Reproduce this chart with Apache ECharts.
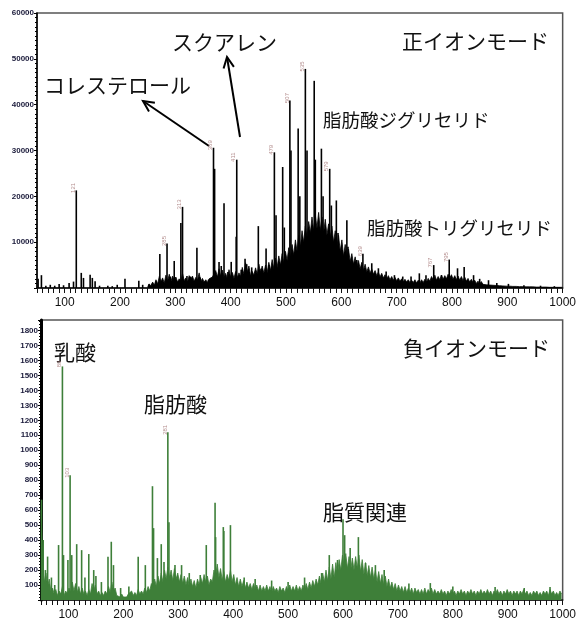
<!DOCTYPE html>
<html>
<head>
<meta charset="utf-8">
<script src="https://cdn.jsdelivr.net/npm/echarts@6/dist/echarts.min.js"></script>
<style>
  html, body { margin: 0; padding: 0; background: #fff; }
  #chart { width: 579px; height: 621px; }
</style>
</head>
<body>
<div id="chart"></div>
<script>
// 正イオンモード: 主要ピーク [m/z, 強度]
const posPeaks = [
  [52,2000],[58,2800],[66,500],[74,700],[82,500],[90,900],[98,600],[108,1100],[116,1400],[121,21300],
  [130,3300],[134,2200],[146,2900],[150,2200],[155,1500],[163,500],[178,500],[186,400],[195,700],[209,2000],
  [234,1600],[241,700],[252,800],[258,1000],[265,1500],[272,7400],[285,9700],[291,2500],[298,5900],[310,14200],
  [313,17700],[321,2600],[327,2500],[339,8800],[345,2300],[352,1300],[360,1800],[369,30600],[371,26000],[379,5700],
  [383,4800],[388,18500],[395,3500],[401,5700],[410,11200],[411,28000],[419,4000],[426,6400],[429,5200],[434,3400],
  [438,4500],[445,3600],[450,13500],[455,4200],[464,8600],[469,5000],[479,29600],[482,15900],[494,26400],[497,13200],
  [507,40900],[509,30000],[522,34800],[525,20000],[535,47800],[538,30000],[551,45200],[553,28000],[564,30400],[567,20000],
  [579,26000],[582,18000],[591,19100],[594,12000],[610,14800],[612,9000],[628,6100],[639,7500],[655,5400],[667,4300],
  [681,3600],[696,2800],[711,2500],[726,2500],[741,3200],[753,2800],[767,5000],[781,2800],[795,6200],[810,4300],
  [822,4600],[839,2800],[850,2000],[866,1700],[881,1100],[902,900],[930,600],[960,500],[985,400]
];
// 正イオンモード: ピーク番号を付けるもの
const posLabeled = [121,285,313,369,411,479,507,535,579,639,767,795];
// 正イオンモード: 背景 (m/z 250 から 3 刻み)
const posBgStart = 250, posBgStep = 3;
const posBg = [
  300,900,400,1300,600,1800,900,2500,1400,2200,
  1100,2800,1500,3000,1400,2600,1800,2400,1300,2000,
  1500,3200,1600,2200,1300,2700,2000,2600,1500,2300,
  1700,3300,1500,2100,1300,1800,1200,2000,1600,2400,
  2000,3800,2400,4200,2600,3900,2200,3200,2000,4000,
  2400,3400,2100,3600,2300,3300,2500,4500,3000,5500,
  3500,4800,2600,3600,2800,4400,3000,5200,3400,4800,
  3200,5000,3400,5600,3800,6200,4200,6500,4500,7000,
  5000,7500,5400,8000,6000,8800,6500,9500,7200,10500,
  8000,11500,9000,12500,10000,13500,11000,14500,12000,15500,
  12500,16000,13000,16500,12500,15500,12000,15000,11500,14000,
  11000,13500,10000,12500,9000,11500,8000,10500,7000,9500,
  6500,8500,5800,7500,5200,6800,4600,6000,4200,5600,
  3800,5200,3500,4600,3200,4200,3000,3800,2700,3500,
  2400,3200,2200,2900,2000,2700,1800,2500,1700,2300,
  1600,2200,1500,2000,1400,1900,1300,1800,1200,1700,
  1200,1800,1100,1700,1100,1800,1200,1900,1300,2100,
  1500,2500,1800,2800,1700,2500,1800,2800,1900,2700,
  2000,3000,2200,2900,1900,2700,1800,2600,1700,2500,
  1600,2400,1500,2100,1300,1900,1200,1700,1000,1500,
  900,1400,800,1200,700,1100,650,1000,600,900,
  550,850,500,800,450,700,400,650,400,600,
  350,550,350,500,300,500,300,450,250,450,
  250,400,250,400,200,350,200,350,200,300,
  200,300,150,300,150,250,150,250,150,250,
  150
];

// 負イオンモード: 主要ピーク [m/z, 強度]
const negPeaks = [
  [51,670],[54,400],[58,200],[62,290],[69,150],[75,100],[82,367],[89,1560],[91,300],[99,267],
  [103,833],[106,300],[115,373],[124,333],[130,150],[137,307],[146,200],[150,160],[160,120],[172,289],
  [178,389],[182,233],[195,80],[210,90],[227,289],[240,233],[253,760],[255,480],[262,280],[269,373],
  [274,253],[281,1120],[283,520],[294,233],[306,233],[320,180],[340,167],[351,367],[367,649],[368,420],
  [382,487],[383,460],[395,500],[420,150],[440,140],[470,130],[500,120],[530,150],[561,180],[575,300],
  [590,267],[600,540],[603,433],[613,347],[628,420],[641,247],[659,233],[675,200],[720,110],[759,113],
  [800,90],[877,87],[930,80],[977,87]
];
const negLabeled = [89,103,281];
// 負イオンモード: 背景 (m/z 50 から 3 刻み)
const negBgStart = 50, negBgStep = 3;
const negBg = [
  600,250,120,180,90,140,60,80,40,70,
  30,60,40,90,30,60,40,80,50,120,
  60,110,50,90,40,80,40,60,30,70,
  40,110,60,100,40,60,30,50,30,60,
  40,90,50,120,60,80,30,40,20,40,
  20,30,20,40,30,60,30,50,30,70,
  40,60,40,80,50,90,60,110,80,140,
  90,160,110,180,120,200,140,220,150,200,
  130,210,140,180,120,170,110,160,100,150,
  90,140,90,130,80,140,100,150,110,170,
  120,160,100,140,120,200,160,240,150,210,
  130,190,120,170,130,200,120,170,100,150,
  90,140,90,130,80,120,80,110,70,110,
  70,100,60,100,60,90,60,100,60,90,
  50,90,60,80,50,90,60,80,50,90,
  60,100,60,90,60,100,60,90,60,100,
  70,110,70,120,80,130,90,140,100,160,
  110,180,120,200,130,220,140,240,150,250,
  170,270,200,300,220,310,210,290,200,280,
  200,290,210,300,190,270,170,250,160,230,
  150,220,140,200,120,190,110,170,100,160,
  90,140,80,120,70,110,60,100,60,90,
  50,90,50,80,50,80,40,80,50,70,
  40,70,40,80,40,70,50,80,40,70,
  40,60,40,70,40,60,30,60,40,70,
  40,60,30,60,40,70,40,60,30,60,
  40,70,40,60,30,60,40,70,40,60,
  40,70,40,60,30,60,40,70,40,60,
  30,60,40,70,40,60,30,60,40,60,
  30,60,40,70,40,60,30,50,30,60,
  40,60,30,50,30,60,40,60,30,70,
  40,60,30,50,30,60,40
];

const posBgData = posBg.map((v, i) => [posBgStart + i * posBgStep, v]);
const negBgData = negBg.map((v, i) => [negBgStart + i * negBgStep, v]);
const pickLabeled = (peaks, list) => peaks.filter(p => list.includes(p[0]));

const BLACK = '#000';
const GREEN = '#3e7f39';
const numFont = 'Liberation Sans';
const jpFont = 'Noto Sans CJK JP';

function xAxisOf(gridIndex) {
  return {
    type: 'value', gridIndex: gridIndex, min: 50, max: 1000, interval: 10,
    axisLine: { show: true, onZero: false, lineStyle: { color: '#111', width: 1.5 } },
    axisTick: { show: true, length: 5, lineStyle: { color: '#111', width: 1 } },
    axisLabel: {
      interval: 0, margin: 9, fontSize: 12, color: '#111', fontFamily: numFont,
      formatter: v => (v % 100 === 0 ? String(v) : '')
    },
    splitLine: { show: false }
  };
}

function yAxisOf(gridIndex, max, interval, minorSplit, lineW) {
  return {
    type: 'value', gridIndex: gridIndex, min: 0, max: max, interval: interval,
    axisLine: { show: true, lineStyle: { color: '#000', width: lineW } },
    axisTick: { show: true, length: 3, lineStyle: { color: '#000', width: 1 } },
    minorTick: { show: true, splitNumber: minorSplit, length: 2, lineStyle: { color: '#000', width: 1 } },
    axisLabel: {
      margin: 3, fontSize: 8, fontWeight: 'bold', color: '#1a1a3a', fontFamily: numFont,
      formatter: v => (v > 0 && v % interval === 0 ? String(v) : '')
    },
    splitLine: { show: false }
  };
}

function labelSeries(xi, peaks, list, color) {
  return {
    type: 'scatter', xAxisIndex: xi, yAxisIndex: xi, symbolSize: 1,
    itemStyle: { color: 'rgba(0,0,0,0)' }, silent: true,
    data: pickLabeled(peaks, list),
    label: {
      show: true, position: 'top', distance: 2, rotate: 90, fontSize: 6,
      color: color, fontFamily: numFont, formatter: p => String(p.value[0])
    }
  };
}

// 矢印 (注記)
function arrow(x1, y1, x2, y2) {
  const a = Math.atan2(y2 - y1, x2 - x1);
  const L = 12, w = 0.45;
  return [
    { type: 'line', shape: { x1, y1, x2, y2 }, style: { stroke: '#000', lineWidth: 2 } },
    { type: 'polyline', shape: { points: [
      [x2 - L * Math.cos(a - w), y2 - L * Math.sin(a - w)], [x2, y2],
      [x2 - L * Math.cos(a + w), y2 - L * Math.sin(a + w)] ] },
      style: { stroke: '#000', lineWidth: 2, fill: null } }
  ];
}

function jpText(text, x, y, size) {
  return { type: 'text', style: { text: text, x: x, y: y, fill: '#111',
    font: size + 'px "' + jpFont + '"', textAlign: 'left', textVerticalAlign: 'middle' } };
}

const chart = echarts.init(document.getElementById('chart'));
chart.setOption({
  animation: false,
  backgroundColor: '#fff',
  grid: [
    { left: 37, right: 10, top: 13, height: 275, show: true, borderColor: '#555', borderWidth: 1.5 },
    { left: 41, right: 10, top: 320, height: 280, show: true, borderColor: '#555', borderWidth: 1.5 }
  ],
  xAxis: [xAxisOf(0), xAxisOf(1)],
  yAxis: [yAxisOf(0, 60000, 10000, 10, 1.5), yAxisOf(1, 1870, 100, 5, 3)],
  series: [
    { type: 'line', xAxisIndex: 0, yAxisIndex: 0, data: posBgData, symbol: 'none',
      lineStyle: { color: BLACK, width: 0.8 }, areaStyle: { color: BLACK, opacity: 1 } },
    { type: 'bar', xAxisIndex: 0, yAxisIndex: 0, data: posPeaks, barWidth: 1.6,
      itemStyle: { color: BLACK } },
    labelSeries(0, posPeaks, posLabeled, '#a07070'),
    { type: 'line', xAxisIndex: 1, yAxisIndex: 1, data: negBgData, symbol: 'none',
      lineStyle: { color: GREEN, width: 0.8 }, areaStyle: { color: GREEN, opacity: 1 } },
    { type: 'bar', xAxisIndex: 1, yAxisIndex: 1, data: negPeaks, barWidth: 1.6,
      itemStyle: { color: GREEN } },
    labelSeries(1, negPeaks, negLabeled, '#a07070')
  ],
  graphic: [
    jpText('スクアレン', 172, 42, 21),
    jpText('コレステロール', 44, 85, 21),
    jpText('正イオンモード', 402, 41, 21),
    jpText('脂肪酸ジグリセリド', 323, 120, 18.5),
    jpText('脂肪酸トリグリセリド', 367, 228, 18.5),
    jpText('乳酸', 54, 352, 21),
    jpText('脂肪酸', 144, 404, 21),
    jpText('負イオンモード', 403, 348, 21),
    jpText('脂質関連', 323, 512, 21),
    ...arrow(209, 146, 143, 101),
    ...arrow(240, 137, 227, 57)
  ]
});
</script>
</body>
</html>
